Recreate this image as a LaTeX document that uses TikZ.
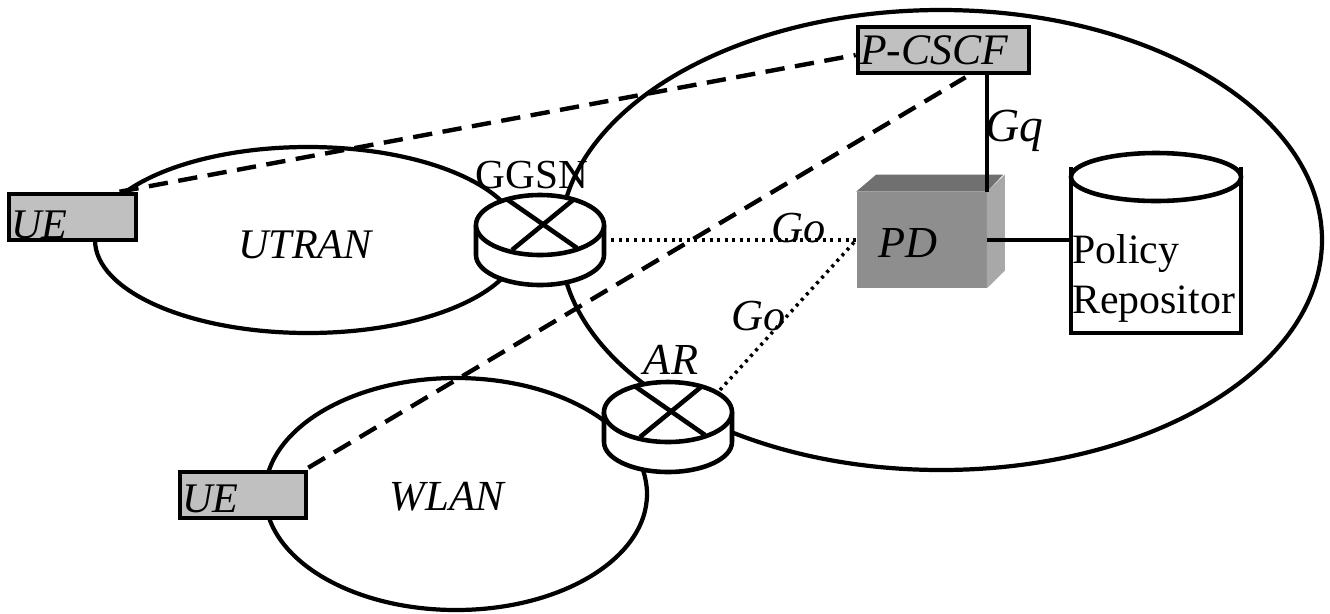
\documentclass[tikz,border=0pt]{standalone}
\usepackage{fontspec}
\setmainfont{Liberation Serif}
\usetikzlibrary{calc}
\definecolor{boxgray}{HTML}{C0C0C0}
\definecolor{pdfront}{HTML}{8E8E8E}
\definecolor{pdtop}{HTML}{707070}
\definecolor{pdside}{HTML}{A8A8A8}
\newcommand{\bigtxt}{\fontsize{23.8}{28.5}\selectfont}
\newcommand{\italtxt}{\fontsize{25.2}{28.5}\selectfont\itshape}
\newcommand{\mkrouter}[3]{%
  \node[routerbase] (#1) at (#2,#3) {};
  \fill[white] ($(#1)+(-64,-15)$) -- ($(#1)+(-64,15)$) arc[x radius=64*0.02cm,y radius=30*0.02cm,start angle=180,end angle=360] -- ($(#1)+(64,-15)$) -- cycle;
  \draw[netline] ($(#1)+(-64,-15)$) -- ($(#1)+(-64,15)$) arc[x radius=64*0.02cm,y radius=30*0.02cm,start angle=180,end angle=360] -- ($(#1)+(64,-15)$);
  \draw[netline,fill=white] ($(#1)+(0,-15)$) ellipse[x radius=64*0.02cm,y radius=30*0.02cm];
  \draw[netline] ($(#1)+(-32,-40)$) -- ($(#1)+(37,8)$);
  \draw[netline] ($(#1)+(-28,10)$) -- ($(#1)+(33,-40)$);
}
\tikzset{
  netline/.style={line width=2.6pt},
  cloud/.style={line width=2.4pt,draw=black},
  graybox/.style={draw=black,line width=2.6pt,fill=boxgray,inner sep=0pt,minimum height=46*0.02cm},
  routerbase/.style={inner sep=0pt,minimum width=128*0.02cm,minimum height=90*0.02cm},
  dashline/.style={line width=2.5pt,dash pattern=on 11pt off 6pt},
  dotline/.style={line width=2pt,dash pattern=on 1.7pt off 2.6pt},
  lbl/.style={font=\italtxt,inner sep=0pt},
  rlbl/.style={font=\bigtxt,inner sep=0pt},
}
\begin{document}
\begin{tikzpicture}[x=0.02cm,y=-0.02cm]
\useasboundingbox (0,0) rectangle (1330,613);
\fill[white] (0,0) rectangle (1330,613);
% network clouds
\draw[cloud] (308,240) ellipse[x radius=213*0.02cm,y radius=93*0.02cm];
\draw[cloud] (941,240) ellipse[x radius=381*0.02cm,y radius=230*0.02cm];
\draw[cloud] (456,494) ellipse[x radius=191*0.02cm,y radius=116*0.02cm];
% routers
\mkrouter{ggsn}{540}{240}
\mkrouter{ar}{668}{427}
% boxes
\node[graybox,minimum width=127*0.02cm] (ueone) at (72.5,217) {};
\node[graybox,minimum width=126*0.02cm] (uetwo) at (243,495) {};
\node[graybox,minimum width=171*0.02cm] (pcscf) at (943.5,50) {};
% PD cube
\node[fill=pdfront,inner sep=0pt,minimum width=130*0.02cm,minimum height=96*0.02cm] (pd) at (921.5,240) {};
\fill[pdtop] (pd.north west) -- ++(20,-17) -- ++(127,0) -- (pd.north east) -- cycle;
\fill[pdside] (pd.north east) -- ++(18,-17) -- ++(0,96) -- (pd.south east) -- cycle;
\node[lbl] (pdtxt) at (908,243) {PD};
% repository cylinder
\coordinate (repotl) at (1071,167);
\coordinate (repobr) at (1241,333);
\draw[line width=2.6pt,fill=white] (repotl) -- (repotl |- repobr) -- (repobr) -- (repobr |- repotl);
\draw[netline,fill=white] (1156,177) ellipse[x radius=85*0.02cm,y radius=24*0.02cm];
\node[rlbl,align=left,anchor=west] (repo) at (1072,278) {Policy\\Repositor};
% connectors
\draw[dashline] ($(ueone.north)+(47,0)$) -- ($(pcscf.west)+(0,5)$);
\draw[dashline] ($(uetwo.north east)+(0,-2)$) -- ($(pcscf.south)+(22,2)$);
\draw[netline] (pd.north east |- pcscf.south) -- (pd.north east);
\draw[netline] (pd.east) -- (pd.east -| repotl);
\draw[dotline] (ggsn.east) ++(7,0) -- (pd.west);
\draw[dotline] ($(ar)+(52,-37)$) -- (pd.west);
% labels
\node[lbl,anchor=west,font=\fontsize{24}{28}\selectfont\itshape] (ueonelbl) at (11,225) {UE};
\node[lbl,anchor=west,font=\fontsize{24}{28}\selectfont\itshape] (uetwolbl) at (182,499) {UE};
\node[lbl,anchor=west,font=\fontsize{24.8}{30}\selectfont\itshape] (pcscflbl) at (860,50) {P-CSCF};
\node[lbl,font=\fontsize{24}{28}\selectfont\itshape] (utran) at (305,245) {UTRAN};
\node[lbl,font=\fontsize{24.4}{28}\selectfont\itshape] (wlan) at (447,497) {WLAN};
\node[rlbl,font=\fontsize{23.5}{28}\selectfont] (ggsnlbl) at (532,175) {GGSN};
\node[lbl] (arlbl) at (671,360) {AR};
\node[lbl] (goone) at (799,228) {Go};
\node[lbl] (gotwo) at (759,316) {Go};
\node[lbl,font=\fontsize{27}{30}\selectfont\itshape] (gq) at (1014,131) {Gq};
\end{tikzpicture}
\end{document}
